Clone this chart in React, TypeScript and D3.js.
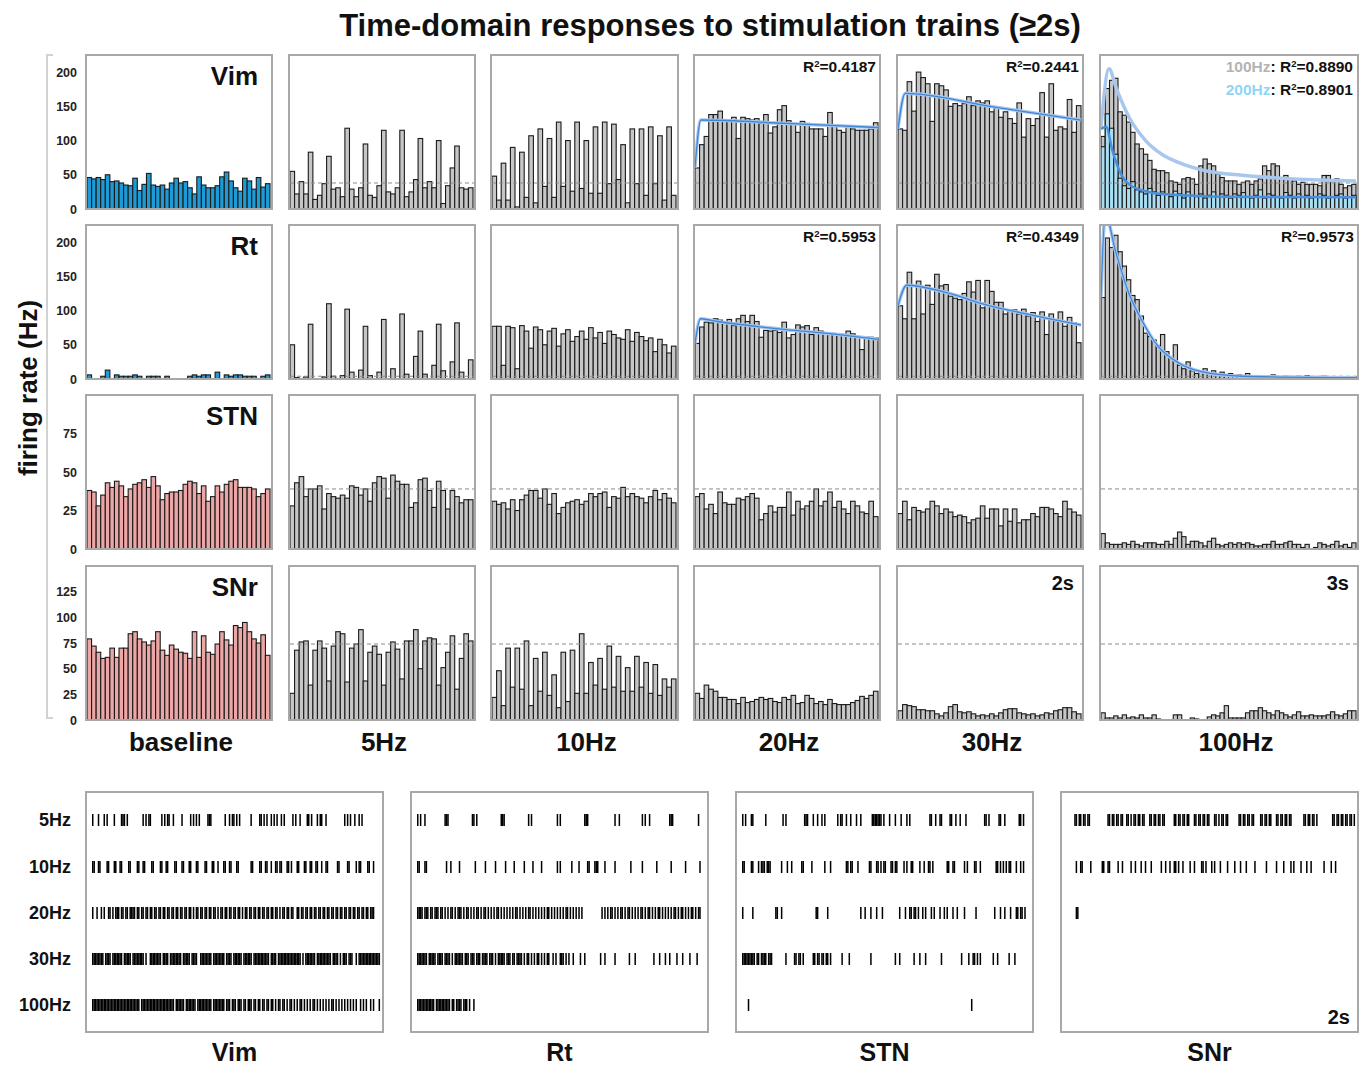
import React from "react";
import * as d3 from "d3";

// ---------- categories / labels ----------
const columns = ["baseline", "5Hz", "10Hz", "20Hz", "30Hz", "100Hz"];
const regions = ["Vim", "Rt", "STN", "SNr"];
const yMaxByRegion = [225, 225, 100, 150];
const yTicksByRegion = [
  [0, 50, 100, 150, 200],
  [0, 50, 100, 150, 200],
  [0, 25, 50, 75],
  [0, 25, 50, 75, 100, 125],
];
const baselineMean = [38, 4, 39, 74];
const vimR2 = ["", "", "", "0.4187", "0.2441", ""];
const rtR2 = ["", "", "", "0.5953", "0.4349", "0.9573"];
const vim100Legend = [
  { label: "100Hz", value: "0.8890" },
  { label: "200Hz", value: "0.8901" },
];
const snrDurations = ["", "", "", "", "2s", "3s"];

// ---------- histogram values (Hz, 50 ms bins) ----------
const vimBaseline = [46,44,46,43,50,40,41,38,35,34,45,27,36,52,35,33,35,29,38,45,38,40,31,22,47,35,31,31,34,47,54,41,31,26,45,41,29,46,32,37];
const vim5 = [55,22,40,22,83,14,20,37,77,29,31,18,118,29,18,31,95,20,17,34,115,25,22,31,115,18,25,43,103,31,40,31,100,8,34,60,92,31,29,31];
const vim10 = [48,13,67,13,90,3,83,17,107,9,117,33,103,17,127,33,100,26,127,30,100,23,120,23,127,37,124,43,94,9,117,37,117,20,120,37,107,13,120,20];
const vim20 = [60,94,106,138,138,143,128,129,134,103,134,132,130,132,125,138,111,120,145,151,129,125,112,128,125,117,117,117,106,141,122,115,112,120,117,115,115,115,117,126];
const vim30 = [117,115,186,143,200,192,183,128,183,180,174,150,154,151,154,164,151,158,155,158,142,147,134,142,132,125,155,105,132,122,132,170,105,183,115,120,117,160,112,151];
const vim100 = [106,176,188,191,142,137,127,112,95,88,80,71,58,56,56,53,41,39,36,44,46,44,36,63,73,66,63,51,46,41,41,41,36,39,41,36,41,44,63,56,66,63,46,49,44,41,36,39,36,36,36,34,49,49,41,44,36,31,34,36];
const vim200 = [91,139,118,80,45,34,30,40,28,25,22,30,25,20,25,22,18,26,22,16,25,20,18,22,16,20,25,18,22,20,16,22,20,24,18,16,20,28,16,22,20,18,16,24,20,16,22,18,20,16,18,22,20,16,18,20,22,16,18,20];

const rtBaseline = [6,0,0,4,13,0,6,4,4,4,6,4,0,4,4,4,0,4,0,0,0,0,4,6,4,6,6,0,10,0,6,4,6,6,4,4,4,0,4,6];
const rt5 = [50,2,0,3,80,0,0,3,110,4,0,5,102,10,0,13,77,5,0,10,87,0,15,0,95,7,0,33,70,7,0,20,80,12,0,25,82,10,0,28];
const rt10 = [77,77,20,77,75,15,78,70,45,76,72,50,70,74,48,66,72,55,62,70,58,75,60,68,52,70,65,60,58,72,55,68,62,56,60,40,58,50,38,48];
const rt20 = [52,76,83,82,88,86,83,87,78,88,93,84,93,84,61,71,70,71,68,83,60,65,79,76,78,65,75,70,66,65,66,66,65,70,66,62,43,61,61,60];
const rt30 = [107,88,156,88,143,95,137,109,153,136,138,121,118,116,125,142,127,144,104,144,128,112,112,95,101,101,95,102,92,97,84,98,65,95,85,98,77,90,82,53];
const rt100 = [119,206,192,210,186,165,145,122,116,92,67,62,57,49,65,40,30,50,20,15,25,12,8,12,15,8,12,8,10,5,8,4,6,3,8,5,3,4,2,3,6,3,2,4,2,3,4,3,5,2,3,2,4,2,3,2,3,2,2,3];

const stnBaseline = [38,37,28,35,43,40,44,41,34,39,42,43,45,40,47,41,32,36,37,37,38,42,44,43,36,41,31,34,41,37,42,44,45,40,40,40,39,34,36,39];
const stn5 = [28,43,47,34,39,39,41,26,36,34,33,35,33,41,40,35,39,31,43,47,46,33,48,44,42,42,27,30,45,46,38,27,44,38,26,38,34,30,32,32];
const stn10 = [31,29,30,26,32,25,32,35,38,38,33,39,29,36,23,27,30,31,32,29,31,36,34,36,37,27,34,33,40,34,36,34,33,30,34,38,32,36,33,30];
const stn20 = [34,36,26,29,23,37,30,29,29,33,32,34,36,33,19,23,28,24,27,27,37,22,31,26,28,31,39,28,31,37,27,31,26,23,31,28,24,23,31,21];
const stn30 = [23,31,19,27,25,24,26,31,28,23,26,24,21,22,21,17,19,20,28,20,26,26,15,26,18,26,17,19,19,23,21,27,27,26,23,21,31,26,24,22];
const stn100 = [10,4,3,3,3,4,3,5,3,2,4,4,4,3,3,5,3,7,11,8,3,5,5,4,2,5,7,3,2,3,4,3,4,3,4,3,2,2,3,3,5,3,3,4,5,3,3,1,3,0,1,4,3,2,3,5,2,3,1,4];

const snrBaseline = [79,72,66,60,61,70,61,70,70,84,86,79,76,73,77,86,68,63,73,69,66,65,60,86,61,82,66,64,74,86,78,73,92,90,95,86,79,75,83,63];
const snr5 = [26,68,76,77,34,68,77,70,38,72,86,84,37,70,74,88,38,66,72,64,34,66,76,69,40,77,77,88,50,77,80,79,34,51,66,82,30,60,84,77];
const snr10 = [22,48,14,70,32,70,30,77,14,60,28,66,24,44,12,66,18,68,26,84,26,56,34,60,30,72,32,62,28,51,28,62,32,56,26,54,24,40,32,40];
const snr20 = [26,21,34,30,28,22,22,20,20,16,22,17,18,20,22,20,21,18,17,22,20,24,16,17,24,21,16,18,15,20,16,15,15,15,17,19,23,21,24,28];
const snr30 = [9,15,14,13,10,10,9,9,6,4,7,13,15,8,7,8,6,4,5,4,6,4,7,10,11,11,7,6,5,6,4,5,7,6,9,10,12,12,8,6];
const snr100 = [7,2,2,4,2,5,2,3,2,5,2,2,5,1,0,0,0,5,5,0,0,2,1,0,0,3,5,4,7,14,2,2,2,2,7,9,9,12,9,7,5,9,7,5,3,5,8,4,4,5,4,4,4,5,8,5,4,6,9,9];

// ---------- fitted curves: [bin, Hz] ----------
const vimFit20 = [[0,60],[1.3,130],[20,125],[40,119]];
const vimFit30 = [[0,117],[1.6,169],[20,150],[40,130]];
const vimFit100 = [[0,120],[1.9,205],[3.5,178],[6.6,134],[10.5,100],[14.3,80],[18.2,68],[24.4,56],[33.7,49],[45.3,44],[60,41]];
const vimFit200 = [[0,117],[1.2,120],[2.7,85],[4.7,51],[6.6,36],[10.5,26],[14.3,22],[29.8,18],[60,17]];
const rtFit20 = [[0,52],[1.2,88],[5,84],[20,72],[30,66],[40,58]];
const rtFit30 = [[0,107],[1.9,137],[10.2,127],[19.5,108],[28.8,94],[40,79]];
const rtFit100 = [[0,119],[1.0,240],[3.5,185],[6.5,126],[9.5,87],[13.4,48],[18.4,23],[23.4,11],[33.3,4],[60,2]];

// ---------- raster spike trains: one char per 10 ms, "|" = spike ----------
const rasterRows = ["5Hz", "10Hz", "20Hz", "30Hz", "100Hz"];
const rasterVim = [
  "|...|...|. |....|.... |||.|..... .....|.|.| |.......|. |.||..|... ..|.....|. |.|.|..... |||....... ..|..|.||. |.|....... |.....||.| .|..|.|.|. .|.|.....| .|..|....| |.|...|.|| ..|....... .....|.|.| ..|..|.|.. ..........",
  "||..||.... ||...||..| |....||... .||..||... .||....||. .||....||. ..||...||. ..||....|| ...||..|.. .||..||... ||........ ||....||.. ||..|..||. ||...||.|. ..||...||. .||..||..| ..||...... ||.....||. ...|.||... .||..|....",
  "|..|..|.|. .||.|.|||. ||.||.|||| .||.||.||. ||.||.||.| |.||.||.|| .||.||.||. |.||.||.|| .||.||.|.| |.||.||.|| .||.|.||.| |.||.||.|| .||.||.||. |.||.||.|| ..||.||.|| .||.||.||. ||.||.||.| |.||.||.|| .||.||.||. ||.|||....",
  "||||||||.| |||.|||||| |.|||||.|| ||||||.|.. ||||||||.| |||.|||||| ||.|||||.| |||..||||| |||.|||||| ||.||||.|| ||||.||||| |.|||||||| |||.||||.| |||||||||| |||||.|.|| |||||.|||| ||||||.||| |.|.|||.|| |..|.||||| ||||||||||",
  "|||||||||| |||||||||| |||||||||| |||.|||||| |||||||||| |||||||.|| ||||.||||| ||.||||||| |||.|||||| ||.|||.||| .|||.||.|| |.||.||.|| .||.||.|.| |.||.|.||. |.|.||.|.| .|.||.|.|. |.|.|.||.| .|.|.|.|.| .|.|..|.|. |..|.|...|",
];
const rasterRt = [
  "|.|..|.... .........| ||........ ........|| .|........ ........|| |......... .......|.| .......... .......|.| .......... ......|||. .......... .......|.. |......... ......|.|. .|........ .....|||.. .......... .....|....",
  "||...||... .......... |..|.....| .......... |......|.. ....|..... .|.....|.. ....|..... |.....|... .......|.| .......|.. ..|.....|| ...|||.... |......|.. ........|. ......|... ......|... ......|... ......|... ......|...",
  "||||.|||.| |.|||.||.| .|.||.|.|| |.|.||.|.| .||.|.||.| .|.|.||.|. |.|.|.|.|| .|.|.|.||. |.|.|.|.|. ||.|.|.|.| .|.||.|.|. |.|.|..... ........|. |.|.||.|.| .||.|.||.| .|.|.||.|. ||.|.|.||. |.|.|.|.|| .|.||.|.|. ||.|.||...",
  "|||||||.|| |||.||||.| |||.|.|||| ||.|||.||| .|||.||||. |||.|.|||| |.|||.||.| |||.|.||.| .|.||.|.|. ||..|.|..| ||.|.|..|. ...|..|... .......|.. |......|.. .......|.. .|........ ....|...|. ..|..|.... |...|....| ....|.....",
  "|||||||||| ||.||||||| |||.||.||| |.|||.|..| .......... .......... .......... .......... .......... .......... .......... .......... .......... .......... .......... .......... .......... .......... .......... ..........",
];
const rasterStn = [
  "|.|...||.. ......|... ........|. |......... ...|||...| ..|..|.|.. ......|.|| ..|..|...| ..|....... |||||||.|. ..|...|... |...|.|... .......... ||..|..||. ....||..|. .|...|.... ........|| .|......|| ..|....... ..||.|....",
  "||....||.. .|.|||.||| .......|.. .|..|..... .||.....|. .......|.. .|........ ..||.||... |.......|| ...||.|.|| ...||.||.. ..|.|..||. ...|..|..| |.|....... ..||..||.. ....|.|... .||..|.... ......||.| .|.|.||... |..|.|....",
  "|......|.. .......... ...||..|.. .......... .......... .||......| .......... .......... ..|..|...| ...|...|.. .........| ...|..||.| |.|..|.|.. .|.|...|.. |.|...|..| ....|..... ..|....... .....|...| ..|...|... ||.||.|...",
  "|||||||||. ||.||||.|| |......... |.....||.| |.|......| |.||.||.|| .|.......| ....|..... .........| .......... ......|..| .........| ...|...|.. ........|. .......... ..|....|.. ||.|.|.... ....|..|.. .....|...| ..........",
  "....|..... .......... .......... .......... .......... .......... .......... .......... .......... .......... .......... .......... .......... .......... .......... .........| .......... .......... .......... ..........",
];
const rasterSnr = [
  ".....||.|| .||.||.... ........|| .||.||.||. .||.|.||.| |.||...||. ||.||.||.. ....||.||. ||.||...|| .||.||.||. ..||.|.||. ||.......| |.||.||.|| ....||.||. ||...||.|| .||.||.... ....||.||. ||.|...... ....||.||. ||.||.||.|",
  "......|..| |.....|... ....||..|| .....|..|. ....|..|.. .|..|...|. .....|..|. .|..||.|.. |....|..|. ...||.|... |.|...|... .|....|... |...|..... |.......|. .....|.... |....|.|.. ..|...|..| ........|. ...|..|... ..........",
  "......||.. .......... .......... .......... .......... .......... .......... .......... .......... .......... .......... .......... .......... .......... .......... .......... .......... .......... .......... ..........",
  "",
  "",
];

// ---------- assemble ----------
const histByRegion = [
  [vimBaseline, vim5, vim10, vim20, vim30, vim100],
  [rtBaseline, rt5, rt10, rt20, rt30, rt100],
  [stnBaseline, stn5, stn10, stn20, stn30, stn100],
  [snrBaseline, snr5, snr10, snr20, snr30, snr100],
];
const fitsByRegion: Record<string, any[]> = {
  "0-3": [vimFit20], "0-4": [vimFit30], "1-3": [rtFit20], "1-4": [rtFit30], "1-5": [rtFit100],
};
const baselineFill = ["#1d9bd6", "#1d9bd6", "#eca6a6", "#eca6a6"];
const rasterPanels = [
  { name: "Vim", rows: rasterVim },
  { name: "Rt", rows: rasterRt },
  { name: "STN", rows: rasterStn },
  { name: "SNr", rows: rasterSnr },
];

const FONT = "'Liberation Sans', Arial, Helvetica, sans-serif";
const colX = [86, 289, 491, 694, 897, 1100];
const colW = [186, 186, 187, 186, 186, 258];
const rowY = [55, 225, 395, 566];
const PANEL_H = 154;
const rasterX = [86, 411, 736, 1061];
const RASTER_W = 297;
const RASTER_TOP = 792;
const RASTER_H = 240;
const rasterRowY = [820, 867, 913, 959, 1005];

function R2Text({ x, y, value }: { x: number; y: number; value: string }) {
  return (
    <text x={x} y={y} textAnchor="end" fontSize={15.5} fontWeight="bold" fill="#111">
      R<tspan fontSize={9.5} dy={-5.5}>2</tspan>
      <tspan dy={5.5}>={value}</tspan>
    </text>
  );
}

function HistPanel({ r, c }: { r: number; c: number }) {
  const x = colX[c];
  const w = colW[c];
  const y = rowY[r];
  const h = PANEL_H;
  const values = histByRegion[r][c];
  const xs = d3.scaleBand<number>().domain(d3.range(values.length)).range([x + 1, x + w - 2]);
  const bw = xs.bandwidth();
  const ys = d3.scaleLinear().domain([0, yMaxByRegion[r]]).range([y + h, y]);
  const fill = c === 0 ? baselineFill[r] : "#c6c6c6";
  const clipId = `clip-${r}-${c}`;
  const line = d3
    .line<number[]>()
    .x((d) => x + 1 + d[0] * bw)
    .y((d) => ys(d[1]))
    .curve(d3.curveMonotoneX);
  const fits = fitsByRegion[`${r}-${c}`] || [];
  const isVim100 = r === 0 && c === 5;
  const bars = (vals: number[], f: string, key: string) =>
    vals.map((v, i) =>
      v > 0 ? (
        <rect
          key={`${key}${i}`}
          x={xs(i)!}
          y={ys(v)}
          width={bw}
          height={ys(0) - ys(v)}
          fill={f}
          stroke="#1a1a1a"
          strokeWidth={1.1}
        />
      ) : null
    );
  return (
    <g>
      <clipPath id={clipId}>
        <rect x={x} y={y} width={w} height={h} />
      </clipPath>
      <rect x={x} y={y} width={w} height={h} fill="#fff" />
      <g clipPath={`url(#${clipId})`}>
        {bars(values, fill, "b")}
        {isVim100 && bars(vim200, "#a9def3", "c")}
        {c > 0 && (
          <line
            x1={x + 1}
            x2={x + w - 1}
            y1={ys(baselineMean[r])}
            y2={ys(baselineMean[r])}
            stroke="#8c8c8c"
            strokeWidth={1}
            strokeDasharray="4,3"
          />
        )}
        {fits.map((f, i) => (
          <g key={`f${i}`}>
            <path d={line(f)!} fill="none" stroke="#a8c7ef" strokeWidth={3.5} />
            <path d={line(f)!} fill="none" stroke="#3f86d6" strokeWidth={1.3} />
          </g>
        ))}
        {isVim100 && (
          <g>
            <path d={line(vimFit100)!} fill="none" stroke="#a8c7ef" strokeWidth={3.5} />
            <path d={line(vimFit200)!} fill="none" stroke="#4a8fdb" strokeWidth={2.5} />
          </g>
        )}
      </g>
      <rect x={x} y={y} width={w} height={h} fill="none" stroke="#a8a8a8" strokeWidth={2} />
      {c === 0 && (
        <text x={x + w - 14} y={y + 30} textAnchor="end" fontSize={26} fontWeight="bold" fill="#111">
          {regions[r]}
        </text>
      )}
      {r === 0 && vimR2[c] && <R2Text x={x + w - 4} y={y + 17} value={vimR2[c]} />}
      {r === 1 && rtR2[c] && <R2Text x={x + w - 4} y={y + 17} value={rtR2[c]} />}
      {isVim100 &&
        vim100Legend.map((lg, i) => (
          <text key={lg.label} x={x + w - 5} y={y + 17 + i * 23} textAnchor="end" fontSize={15.5} fontWeight="bold" fill="#111">
            <tspan fill={i === 0 ? "#b4b4b4" : "#8fd6f3"}>{lg.label}</tspan>
            <tspan>: R</tspan>
            <tspan fontSize={9.5} dy={-5.5}>2</tspan>
            <tspan dy={5.5}>={lg.value}</tspan>
          </text>
        ))}
      {r === 3 && snrDurations[c] && (
        <text x={x + w - 9} y={y + 24} textAnchor="end" fontSize={20} fontWeight="bold" fill="#111">
          {snrDurations[c]}
        </text>
      )}
      {c === 0 &&
        yTicksByRegion[r].map((t) => (
          <text key={t} x={77} y={ys(t) + 4.5} textAnchor="end" fontSize={12.5} fontWeight="bold" fill="#222">
            {t}
          </text>
        ))}
    </g>
  );
}

function RasterPanel({ idx }: { idx: number }) {
  const p = rasterPanels[idx];
  const left = rasterX[idx];
  const xs = d3.scaleLinear().domain([0, 200]).range([left + 6, left + RASTER_W - 3]);
  const ticks: JSX.Element[] = [];
  p.rows.forEach((row, ri) => {
    const s = row.replace(/ /g, "");
    for (let i = 0; i < s.length; i++) {
      if (s[i] === "|") {
        ticks.push(
          <rect key={`${ri}-${i}`} x={xs(i)} y={rasterRowY[ri] - 6} width={1.5} height={12} fill="#000" />
        );
      }
    }
  });
  return (
    <g>
      <rect x={left} y={RASTER_TOP} width={RASTER_W} height={RASTER_H} fill="#fff" stroke="#a8a8a8" strokeWidth={2} />
      {ticks}
      <text x={left + RASTER_W / 2} y={1061} textAnchor="middle" fontSize={25} fontWeight="bold" fill="#111">
        {p.name}
      </text>
    </g>
  );
}

export default function App() {
  return (
    <svg
      width={1359}
      height={1067}
      style={{ position: "absolute", left: 0, top: 0, display: "block", background: "#fff" }}
      fontFamily={FONT}
    >
      <rect x={0} y={0} width={1359} height={1067} fill="#fff" />
      <text x={710} y={36} textAnchor="middle" fontSize={31} fontWeight="bold" fill="#111">
        Time-domain responses to stimulation trains (≥2s)
      </text>
      <text
        transform="translate(37,388) rotate(-90)"
        textAnchor="middle"
        fontSize={26}
        fontWeight="bold"
        fill="#111"
      >
        firing rate (Hz)
      </text>
      <path d="M53,55 H47 V718 H53" fill="none" stroke="#d2d2d2" strokeWidth={2} />
      {regions.map((_, r) => columns.map((__, c) => <HistPanel key={`${r}-${c}`} r={r} c={c} />))}
      {columns.map((col, c) => (
        <text key={col} x={colX[c] + colW[c] / 2 + (c === 5 ? 7 : 2)} y={751} textAnchor="middle" fontSize={26} fontWeight="bold" fill="#111">
          {col}
        </text>
      ))}
      {rasterRows.map((lab, i) => (
        <text key={lab} x={71} y={rasterRowY[i] + 6} textAnchor="end" fontSize={18} fontWeight="bold" fill="#111">
          {lab}
        </text>
      ))}
      {rasterPanels.map((_, i) => <RasterPanel key={i} idx={i} />)}
      <text x={1350} y={1024} textAnchor="end" fontSize={20} fontWeight="bold" fill="#111">
        2s
      </text>
    </svg>
  );
}
